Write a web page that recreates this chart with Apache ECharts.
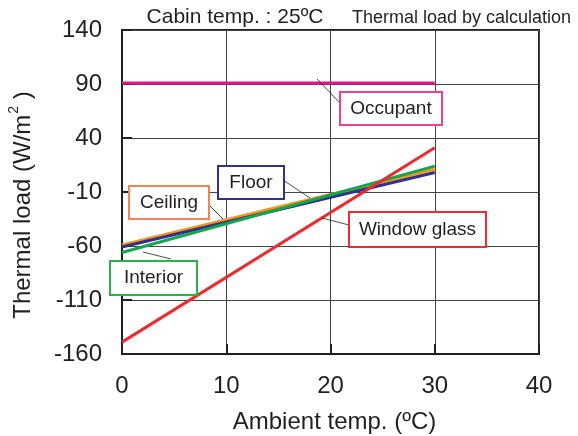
<!DOCTYPE html>
<html>
<head>
<meta charset="utf-8">
<script src="https://cdn.jsdelivr.net/npm/echarts@6/dist/echarts.min.js"></script>
<style>
html,body{margin:0;padding:0;background:#fff;}
#chart{width:578px;height:436px;}
</style>
</head>
<body>
<div id="chart"></div>
<script>
// ---- data ----
const ambientTemps = [0, 30];
const occupant = [91, 91];
const windowGlass = [-149, 31];
const ceiling = [-59, 11];
const floorLoad = [-61, 8];
const interior = [-66, 14];
const xTicks = [0, 10, 20, 30, 40];
const yTicks = [-160, -110, -60, -10, 40, 90, 140];

const FONT = '"Liberation Sans", Arial, Helvetica, sans-serif';
const TXT = '#231f20';

function pairs(vals) { return ambientTemps.map((x, i) => [x, vals[i]]); }

const chart = echarts.init(document.getElementById('chart'), null, {renderer: 'canvas'});

function lineSeries(name, vals, color, z) {
  return {
    name, type: 'line', data: pairs(vals), symbol: 'none', z,
    lineStyle: {color, width: 3}, animation: false
  };
}

// annotation layout (pixel layout of callout boxes and leader lines)
const callouts = [
  {text: 'Occupant', color: '#e8419b', box: [340, 92, 102, 33], leader: [[317, 79], [340, 103]]},
  {text: 'Floor', color: '#2e3192', box: [218, 166, 66, 33], leader: [[283, 180], [310, 198]]},
  {text: 'Ceiling', color: '#f08452', box: [129, 186, 80, 33], leader: [[209, 205], [223, 219]]},
  {text: 'Window glass', color: '#ec2b33', box: [349, 212, 137, 35], leader: [[349, 225], [322, 218]]},
  {text: 'Interior', color: '#2bb14b', box: [110, 261, 87, 34], leader: [[143, 252], [171, 259]]}
];

const graphics = [];
callouts.forEach(c => {
  graphics.push({type: 'line', z: 50, shape: {x1: c.leader[0][0], y1: c.leader[0][1], x2: c.leader[1][0], y2: c.leader[1][1]},
    style: {stroke: TXT, lineWidth: 0.8}});
  graphics.push({type: 'rect', z: 51, shape: {x: c.box[0], y: c.box[1], width: c.box[2], height: c.box[3]},
    style: {fill: '#fff', stroke: c.color, lineWidth: 2}});
  graphics.push({type: 'text', z: 52, x: c.box[0] + c.box[2] / 2, y: c.box[1] + c.box[3] / 2,
    style: {text: c.text, fill: TXT, font: '19px ' + FONT, align: 'center', verticalAlign: 'middle'}});
});
graphics.push({type: 'text', x: 235, y: 17, style: {text: 'Cabin temp. : 25ºC', fill: TXT, font: '21px ' + FONT, align: 'center', verticalAlign: 'middle'}});
graphics.push({type: 'text', x: 352, y: 18, style: {text: 'Thermal load by calculation', fill: TXT, font: '18px ' + FONT, align: 'left', verticalAlign: 'middle'}});
// y-axis title with superscript
graphics.push({type: 'text', x: 21, y: 205, rotation: Math.PI / 2,
  style: {
    text: '{n|Thermal load (W/m}{s|2}{n| )}', align: 'center', verticalAlign: 'middle',
    rich: {
      n: {fontSize: 24, fontFamily: FONT, fill: TXT, color: TXT, verticalAlign: 'bottom', lineHeight: 28},
      s: {fontSize: 14, fontFamily: FONT, fill: TXT, color: TXT, verticalAlign: 'top', lineHeight: 28, padding: [0, 0, 12, 1]}
    }
  }});

chart.setOption({
  animation: false,
  backgroundColor: '#fff',
  grid: {left: 122, right: 39, top: 30, bottom: 82, show: true, borderColor: TXT, borderWidth: 2,
    containLabel: false, outerBoundsMode: 'none'},
  xAxis: {
    type: 'value', min: xTicks[0], max: xTicks[xTicks.length - 1], interval: 10,
    name: 'Ambient temp. (ºC)', nameLocation: 'middle', nameGap: 56,
    nameTextStyle: {color: TXT, fontSize: 24, fontFamily: FONT, padding: [0, 0, 0, 8]},
    axisLine: {show: true, onZero: false, lineStyle: {color: TXT, width: 2}},
    axisTick: {show: true, inside: true, length: 10, lineStyle: {color: TXT, width: 2}},
    axisLabel: {color: TXT, fontSize: 24, fontFamily: FONT, margin: 20},
    splitLine: {show: true, lineStyle: {color: '#444', width: 1}}
  },
  yAxis: {
    type: 'value', min: yTicks[0], max: yTicks[yTicks.length - 1], interval: 50,
    axisLine: {show: true, onZero: false, lineStyle: {color: TXT, width: 2}},
    axisTick: {show: true, inside: true, length: 10, lineStyle: {color: TXT, width: 2}},
    axisLabel: {color: TXT, fontSize: 24, fontFamily: FONT, margin: 20},
    splitLine: {show: true, lineStyle: {color: '#444', width: 1}}
  },
  series: [
    lineSeries('Occupant', occupant, '#e8138c', 10),
    lineSeries('Ceiling', ceiling, '#f7941d', 11),
    lineSeries('Floor', floorLoad, '#2e3192', 12),
    lineSeries('Interior', interior, '#12a84a', 13),
    lineSeries('Window glass', windowGlass, '#ee2a2f', 14)
  ],
  graphic: graphics
});
</script>
</body>
</html>
